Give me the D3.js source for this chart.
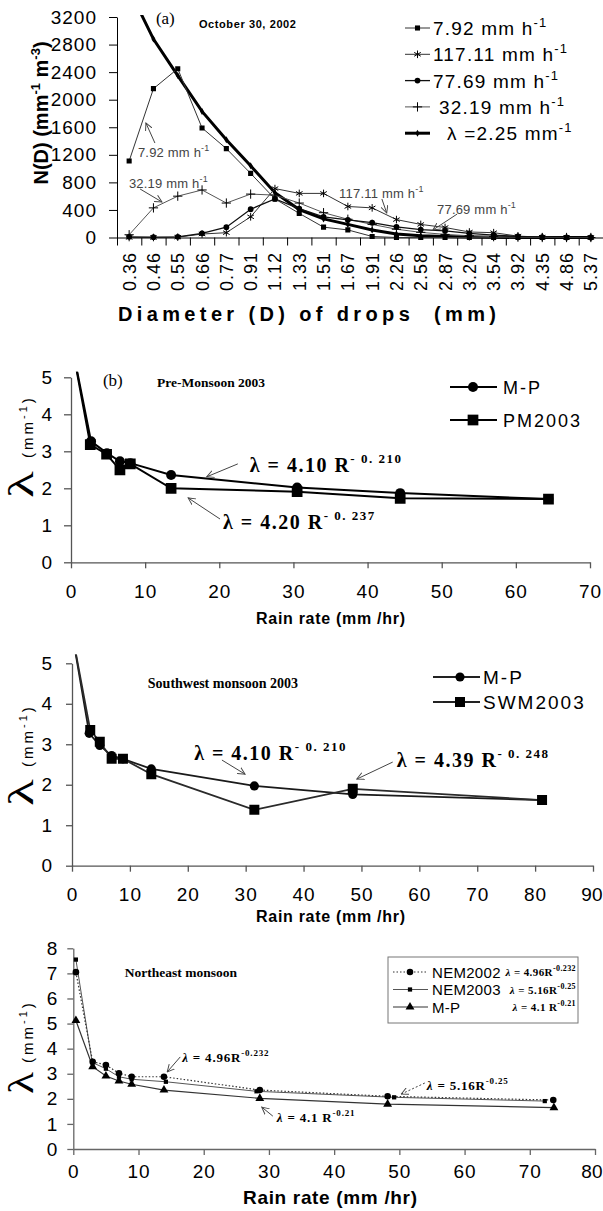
<!DOCTYPE html>
<html>
<head>
<meta charset="utf-8">
<script src="https://cdn.jsdelivr.net/npm/d3@7"></script>
<style>
body { margin: 0; background: #fff; }
svg { display: block; }
</style>
</head>
<body>
<svg id="chart" width="603" height="1211"></svg>
<script>

// ---- panel (a): drop size distribution, October 30, 2002 ----
var diameters = ["0.36", "0.46", "0.55", "0.66", "0.77", "0.91", "1.12", "1.33", "1.51", "1.67",
                 "1.91", "2.26", "2.58", "2.87", "3.20", "3.54", "3.92", "4.35", "4.86", "5.37"];
var nd_792   = [1110, 2160, 2450, 1590, 1290, 930, 560, 350, 150, 110, 15, 0, 0, 0, 0, 0, 0, 0, 0, 0];
var nd_11711 = [0, 0, 5, 50, 70, 300, 710, 640, 640, 450, 430, 260, 190, 145, 80, 70, 20, 5, 0, 0];
var nd_7769  = [10, 5, 10, 60, 150, 410, 560, 420, 300, 255, 215, 155, 115, 95, 60, 35, 15, 5, 0, 0];
var nd_3219  = [40, 430, 600, 690, 500, 630, 615, 500, 360, 265, 190, 120, 75, 45, 25, 12, 5, 0, 0, 0];
var nd_lambda = [3600, 2880, 2350, 1830, 1420, 1040, 650, 405, 270, 190, 110, 50, 25, 13, 6, 3, 1, 0, 0, 0];
var ndTicks = [0, 400, 800, 1200, 1600, 2000, 2400, 2800, 3200];

// ---- panel (b): Pre-Monsoon 2003 ----
var mpRainB   = [0.1, 2.7, 4.85, 6.6, 8.0, 13.5, 30.5, 44.4, 64.4];
var mpLambdaB = [5.9, 3.27, 2.95, 2.73, 2.68, 2.36, 2.02, 1.87, 1.71];
var pmRain    = [0.1, 2.6, 4.8, 6.6, 8.0, 13.5, 30.5, 44.4, 64.4];
var pmLambda  = [5.9, 3.18, 2.92, 2.5, 2.66, 2.0, 1.91, 1.73, 1.71];
var rainTicksB = [0, 10, 20, 30, 40, 50, 60, 70];

// ---- panel (c): Southwest monsoon 2003 ----
var mpRainC    = [0.2, 2.97, 4.8, 6.85, 8.8, 13.7, 31.5, 48.5, 81.2];
var mpLambdaC  = [5.6, 3.27, 2.97, 2.72, 2.64, 2.39, 1.97, 1.76, 1.62];
var swmRain    = [0.2, 3.15, 4.8, 6.85, 8.8, 13.7, 31.5, 48.5, 81.2];
var swmLambda  = [5.6, 3.35, 3.06, 2.64, 2.64, 2.26, 1.38, 1.9, 1.62];
var rainTicksC = [0, 10, 20, 30, 40, 50, 60, 70, 80, 90];

// ---- panel (d): Northeast monsoon ----
var nem02Rain   = [0.4, 2.97, 5.0, 7.0, 8.95, 13.9, 28.6, 48.2, 73.6];
var nem02Lambda = [7.05, 3.48, 3.35, 3.02, 2.88, 2.88, 2.35, 2.1, 1.95];
var nem03Rain   = [0.4, 2.9, 5.0, 7.0, 8.95, 14.2, 28.1, 49.2, 72.3];
var nem03Lambda = [7.55, 3.45, 3.2, 2.88, 2.78, 2.68, 2.3, 2.06, 1.91];
var mpRainD     = [0.4, 2.97, 5.0, 7.0, 8.95, 13.9, 28.6, 48.2, 73.7];
var mpLambdaD   = [5.12, 3.28, 2.91, 2.71, 2.58, 2.35, 2.02, 1.79, 1.65];
var rainTicksD  = [0, 10, 20, 30, 40, 50, 60, 70, 80];

var lambdaTicks5 = [0, 1, 2, 3, 4, 5];
var lambdaTicks8 = [0, 1, 2, 3, 4, 5, 6, 7, 8];

var SANS = "'Liberation Sans', Arial, sans-serif";
var SERIF = "'Liberation Serif', 'Times New Roman', serif";
var plain = d3.format("d");

var svg = d3.select("#chart");
svg.append("rect").attr("width", 603).attr("height", 1211).attr("fill", "#fff");
var defs = svg.append("defs");

defs.append("marker").attr("id", "arrowhead")
    .attr("viewBox", "0 0 10 10").attr("refX", 9).attr("refY", 5)
    .attr("markerWidth", 8).attr("markerHeight", 8)
    .attr("markerUnits", "userSpaceOnUse")
    .attr("orient", "auto")
  .append("path").attr("d", "M0,0.5L9,5L0,9.5")
    .attr("fill", "none").attr("stroke", "#444").attr("stroke-width", 1.2);

//
// segText:
//   text with superscript parts; segs is a list of [string, isSup, style]
//
function segText(g, x, y, segs, o) {
    var t = g.append("text").attr("x", x).attr("y", y)
        .attr("font-family", o.family || SANS)
        .attr("font-size", o.size)
        .attr("font-weight", o.weight || "normal")
        .attr("letter-spacing", o.ls || 0)
        .attr("fill", o.fill || "#000")
        .attr("text-anchor", o.anchor || "start")
        .attr("xml:space", "preserve");
    if (o.transform) t.attr("transform", o.transform);
    var raised = false;
    segs.forEach(function(s) {
        var sp = t.append("tspan").text(s[0]);
        if (s[1]) {
            sp.attr("font-size", o.supSize).attr("dy", raised ? 0 : -o.rise);
            raised = true;
        } else if (raised) {
            sp.attr("dy", o.rise);
            raised = false;
        }
        if (s[2]) sp.attr("font-style", s[2]);
    });
    return t;
}

function arrow(g, x1, y1, x2, y2, dashed) {
    var l = g.append("line").attr("x1", x1).attr("y1", y1).attr("x2", x2).attr("y2", y2)
        .attr("stroke", "#444").attr("stroke-width", 1)
        .attr("marker-end", "url(#arrowhead)");
    if (dashed) l.attr("stroke-dasharray", "2,2");
}

var symbolTypes = {
    square: d3.symbolSquare,
    circle: d3.symbolCircle,
    triangle: d3.symbolTriangle,
    diamond: d3.symbolDiamond,
    asterisk: d3.symbolAsterisk || d3.symbolCross,
    plus: d3.symbolPlus || d3.symbolCross
};

function drawSymbols(g, kind, area, pts, color) {
    var stroked = (kind == "asterisk" || kind == "plus");
    g.selectAll(null).data(pts).join("path")
        .attr("transform", function(p) { return "translate(" + p[0] + "," + p[1] + ")"; })
        .attr("d", d3.symbol(symbolTypes[kind], area))
        .attr("fill", stroked ? "none" : color)
        .attr("stroke", stroked ? color : "none")
        .attr("stroke-width", stroked ? 1 : 0);
}

function styleAxis(ax, color, width, size) {
    ax.selectAll("path, line").attr("stroke", color).attr("stroke-width", width);
    ax.selectAll("text").attr("font-family", SANS).attr("font-size", size)
        .attr("letter-spacing", 1).attr("fill", "#000");
}

// keep the last tick label of an x axis inside the page
function pullInLast(ax, dx) {
    var labs = ax.selectAll(".tick text");
    d3.select(labs.nodes()[labs.size() - 1]).attr("text-anchor", "end").attr("x", dx)
        .attr("letter-spacing", 0);
}

//
// lambdaTitle:
//   rotated "λ (mm-1)" axis title; the λ is drawn wide like the original glyph
//
function lambdaTitle(g, x, yLam, yUnit, widen) {
    g.append("text").attr("transform", "translate(" + x + "," + yLam + ") rotate(-90) scale(" + widen + ",0.92)")
        .attr("font-family", SERIF).attr("font-size", 38).attr("fill", "#000").text("λ");
    var t = g.append("text").attr("transform", "translate(" + x + "," + yUnit + ") rotate(-90)")
        .attr("font-family", SANS).attr("fill", "#000").attr("letter-spacing", 3);
    t.append("tspan").text("(mm").attr("font-size", 15);
    t.append("tspan").text("-1").attr("font-size", 11).attr("dy", -6);
    t.append("tspan").text(")").attr("font-size", 15).attr("dy", 6);
}

// ===================== panel (a) =====================
var ga = svg.append("g");
var xa = d3.scaleBand().domain(diameters).range([117, 603]);
var fa = d3.scaleLinear().domain([0, diameters.length]).range([117, 603]);
var ya = d3.scaleLinear().domain([0, 3200]).range([237.5, 17]);
var cxa = function(i) { return xa(diameters[i]) + xa.bandwidth() / 2; };

var axA = ga.append("g").attr("transform", "translate(117,0)")
    .call(d3.axisLeft(ya).tickValues(ndTicks).tickFormat(plain)
          .tickSize(8).tickPadding(12).tickSizeOuter(0));
styleAxis(axA, "#000", 1, 19);

var axAx = ga.append("g").attr("transform", "translate(0," + ya(0) + ")")
    .call(d3.axisBottom(fa).tickValues(d3.range(0, diameters.length + 1))
          .tickSize(8).tickFormat("").tickSizeOuter(0));
styleAxis(axAx, "#000", 1, 19);

ga.selectAll(".dlab").data(diameters).join("text")
    .attr("transform", function(d) {
        return "translate(" + (xa(d) + xa.bandwidth() / 2 + 6.5) + ",252) rotate(-90)";
    })
    .attr("text-anchor", "end").attr("font-family", SANS).attr("font-size", 18)
    .attr("letter-spacing", 1).text(function(d) { return d; });

segText(ga, 0, 0, [["N(D) (mm"], ["-1", true], [" m"], ["-3", true], [")"]],
    { size: 20, weight: "bold", supSize: 13, rise: 8, anchor: "middle",
      transform: "translate(48,113) rotate(-90)" });

ga.append("text").attr("x", 118).attr("y", 321)
    .attr("font-family", SANS).attr("font-size", 20).attr("font-weight", "bold")
    .attr("textLength", 378).attr("lengthAdjust", "spacing")
    .attr("xml:space", "preserve")
    .text("Diameter (D) of drops  (mm)");

defs.append("clipPath").attr("id", "clipA").append("rect")
    .attr("x", 117).attr("y", ya(3200) - 2).attr("width", 486).attr("height", ya(0) - ya(3200) + 12);

var seriesA = [
    { name: "7.92",   values: nd_792,    sym: "square",   area: 26, stroke: "#333", width: 1,   legX: 433 },
    { name: "117.11", values: nd_11711,  sym: "asterisk", area: 40, stroke: "#333", width: 1,   legX: 433 },
    { name: "77.69",  values: nd_7769,   sym: "circle",   area: 26, stroke: "#111", width: 1.3, legX: 433 },
    { name: "32.19",  values: nd_3219,   sym: "plus",     area: 30, stroke: "#555", width: 1,   legX: 439 },
    { name: "lambda", values: nd_lambda, sym: "diamond",  area: 14, stroke: "#000", width: 3,   legX: 447 }
];

var plotA = ga.append("g").attr("clip-path", "url(#clipA)");
var lineA = d3.line().x(function(d, i) { return cxa(i); }).y(function(d) { return ya(d); });
[4, 3, 1, 2, 0].forEach(function(k) {
    var s = seriesA[k];
    plotA.append("path").attr("d", lineA(s.values))
        .attr("fill", "none").attr("stroke", s.stroke).attr("stroke-width", s.width);
    drawSymbols(plotA, s.sym, s.area, s.values.map(function(v, i) { return [cxa(i), ya(v)]; }), "#000");
});

ga.append("text").attr("x", fa(1.6)).attr("y", ya(3098)).attr("font-family", SERIF)
    .attr("font-size", 17).text("(a)");
ga.append("text").attr("x", fa(3.37)).attr("y", ya(3040)).attr("font-family", SANS)
    .attr("font-size", 11).attr("font-weight", "bold").attr("letter-spacing", 0.6)
    .text("October 30, 2002");

var annA = { size: 13, supSize: 9, rise: 6, fill: "#444", ls: 0.2 };
segText(ga, fa(0.86), ya(1168), [["7.92 mm h"], ["-1", true]], annA);
arrow(ga, fa(1.56), ya(1371), fa(1.19), ya(1662));
segText(ga, fa(0.49), ya(718), [["32.19 mm h"], ["-1", true]], annA);
arrow(ga, fa(0.95), ya(704), fa(1.85), ya(515));
segText(ga, fa(9.14), ya(573), [["117.11 mm h"], ["-1", true]], annA);
arrow(ga, fa(10.9), ya(559), fa(11.1), ya(356));
segText(ga, fa(13.17), ya(341), [["77.69 mm h"], ["-1", true]], annA);
arrow(ga, fa(14.0), ya(341), fa(13.0), ya(109));

// legend (a)
var legA = ga.append("g");
seriesA.forEach(function(s, i) {
    var yy = 28 + i * 26.3;
    legA.append("line").attr("x1", 405).attr("x2", 430).attr("y1", yy).attr("y2", yy)
        .attr("stroke", s.stroke).attr("stroke-width", s.width);
    drawSymbols(legA, s.sym, s.area, [[417.5, yy]], "#000");
    var segs = s.name == "lambda" ? [["λ =2.25 mm"], ["-1", true]] : [[s.name + " mm h"], ["-1", true]];
    segText(legA, s.legX, yy + 7, segs, { size: 19, supSize: 13, rise: 8, ls: 1.2 });
});

// ===================== panel (b) =====================
var gb = svg.append("g");
var xb = d3.scaleLinear().domain([0, 70]).range([71, 590]);
var yb = d3.scaleLinear().domain([0, 5]).range([562.3, 377.3]);

var axB = gb.append("g").attr("transform", "translate(71,0)")
    .call(d3.axisLeft(yb).tickValues(lambdaTicks5).tickFormat(plain)
          .tickSize(7).tickPadding(11).tickSizeOuter(0));
styleAxis(axB, "#555", 1.3, 19);
var axBx = gb.append("g").attr("transform", "translate(0," + yb(0) + ")")
    .call(d3.axisBottom(xb).tickValues(rainTicksB).tickFormat(plain)
          .tickSize(6).tickPadding(16).tickSizeOuter(0));
styleAxis(axBx, "#555", 1.3, 19);

lambdaTitle(gb, 33, 498, 458, 1.45);
gb.append("text").attr("x", 256).attr("y", 624).attr("font-family", SANS)
    .attr("font-size", 16).attr("font-weight", "bold")
    .attr("textLength", 149).attr("lengthAdjust", "spacing")
    .text("Rain rate (mm /hr)");

defs.append("clipPath").attr("id", "clipB").append("rect")
    .attr("x", 60).attr("y", yb(5.15)).attr("width", 543).attr("height", yb(0) - yb(5.15) + 10);

var plotB = gb.append("g").attr("clip-path", "url(#clipB)");
var lineB = d3.line();
function xyPairs(xs, ys, sx, sy) { return xs.map(function(v, i) { return [sx(v), sy(ys[i])]; }); }

var mpB = xyPairs(mpRainB, mpLambdaB, xb, yb);
var pmB = xyPairs(pmRain, pmLambda, xb, yb);
plotB.append("path").attr("d", lineB(mpB)).attr("fill", "none").attr("stroke", "#000").attr("stroke-width", 2);
plotB.append("path").attr("d", lineB(pmB)).attr("fill", "none").attr("stroke", "#000").attr("stroke-width", 2);
drawSymbols(plotB, "circle", 78, mpB, "#000");
drawSymbols(plotB, "square", 115, pmB, "#000");

gb.append("text").attr("x", xb(4.3)).attr("y", yb(4.76)).attr("font-family", SERIF)
    .attr("font-size", 17).text("(b)");
gb.append("text").attr("x", xb(11.6)).attr("y", yb(4.74)).attr("font-family", SERIF)
    .attr("font-size", 13.5).attr("font-weight", "bold").text("Pre-Monsoon 2003");

var annBC = { size: 20, family: SERIF, weight: "bold", supSize: 13, rise: 9, ls: 1.5 };
segText(gb, xb(24.1), yb(2.44), [["λ = 4.10 R"], ["- 0. 210", true]], annBC);
arrow(gb, xb(22.5), yb(2.66), xb(18.3), yb(2.31));
segText(gb, xb(20.5), yb(0.9), [["λ = 4.20 R"], ["- 0. 237", true]], annBC);
arrow(gb, xb(20.1), yb(1.17), xb(15.8), yb(1.74));

var legB = gb.append("g");
[["M-P", "circle", 78], ["PM2003", "square", 115]].forEach(function(e, i) {
    var yy = 387 + i * 33;
    legB.append("line").attr("x1", 450).attr("x2", 497).attr("y1", yy).attr("y2", yy)
        .attr("stroke", "#000").attr("stroke-width", 2);
    drawSymbols(legB, e[1], e[2], [[473, yy]], "#000");
    legB.append("text").attr("x", 503).attr("y", yy + 6.5).attr("font-family", SANS)
        .attr("font-size", 18).attr("letter-spacing", 2).text(e[0]);
});

// ===================== panel (c) =====================
var gc = svg.append("g");
var xc = d3.scaleLinear().domain([0, 90]).range([72, 593]);
var yc = d3.scaleLinear().domain([0, 5]).range([865.7, 663.3]);

var axC = gc.append("g").attr("transform", "translate(72,0)")
    .call(d3.axisLeft(yc).tickValues(lambdaTicks5).tickFormat(plain)
          .tickSize(6).tickPadding(13).tickSizeOuter(0));
styleAxis(axC, "#555", 1.3, 19);
var axCx = gc.append("g").attr("transform", "translate(0," + yc(0) + ")")
    .call(d3.axisBottom(xc).tickValues(rainTicksC).tickFormat(plain)
          .tickSize(6).tickPadding(16).tickSizeOuter(0));
styleAxis(axCx, "#555", 1.3, 19);
pullInLast(axCx, 9);

lambdaTitle(gc, 33, 806, 767, 1.45);
gc.append("text").attr("x", 256).attr("y", 922).attr("font-family", SANS)
    .attr("font-size", 16).attr("font-weight", "bold")
    .attr("textLength", 149).attr("lengthAdjust", "spacing")
    .text("Rain rate (mm /hr)");

defs.append("clipPath").attr("id", "clipC").append("rect")
    .attr("x", 60).attr("y", yc(5.22)).attr("width", 543).attr("height", yc(0) - yc(5.22) + 10);

var plotC = gc.append("g").attr("clip-path", "url(#clipC)");
var mpC = xyPairs(mpRainC, mpLambdaC, xc, yc);
var swC = xyPairs(swmRain, swmLambda, xc, yc);
plotC.append("path").attr("d", lineB(mpC)).attr("fill", "none").attr("stroke", "#1a1a1a").attr("stroke-width", 1.8);
plotC.append("path").attr("d", lineB(swC)).attr("fill", "none").attr("stroke", "#2a2a2a").attr("stroke-width", 1.8);
drawSymbols(plotC, "circle", 66, mpC, "#000");
drawSymbols(plotC, "square", 100, swC, "#000");

gc.append("text").attr("x", xc(13.1)).attr("y", yc(4.39)).attr("font-family", SERIF)
    .attr("font-size", 14).attr("font-weight", "bold").text("Southwest monsoon 2003");

segText(gc, xc(21.1), yc(2.61), [["λ = 4.10 R"], ["- 0. 210", true]], annBC);
arrow(gc, xc(25.9), yc(2.61), xc(29.9), yc(2.26));
segText(gc, xc(56.1), yc(2.44), [["λ = 4.39 R"], ["- 0. 248", true]], annBC);
arrow(gc, xc(55.4), yc(2.56), xc(49.2), yc(2.14));

var legC = gc.append("g");
[["M-P", "circle", 66], ["SWM2003", "square", 100]].forEach(function(e, i) {
    var yy = 677 + i * 25;
    legC.append("line").attr("x1", 433).attr("x2", 480).attr("y1", yy).attr("y2", yy)
        .attr("stroke", "#222").attr("stroke-width", 1.8);
    drawSymbols(legC, e[1], e[2], [[460, yy]], "#000");
    legC.append("text").attr("x", 483).attr("y", yy + 7).attr("font-family", SANS)
        .attr("font-size", 19).attr("letter-spacing", 2).text(e[0]);
});

// ===================== panel (d) =====================
var gd = svg.append("g");
var xd = d3.scaleLinear().domain([0, 80]).range([73.3, 595]);
var yd = d3.scaleLinear().domain([0, 8]).range([1149, 948.3]);

var axD = gd.append("g").attr("transform", "translate(73.3,0)")
    .call(d3.axisLeft(yd).tickValues(lambdaTicks8).tickFormat(plain)
          .tickSize(6).tickPadding(9).tickSizeOuter(0));
styleAxis(axD, "#666", 1.3, 19);
var axDx = gd.append("g").attr("transform", "translate(0," + yd(0) + ")")
    .call(d3.axisBottom(xd).tickValues(rainTicksD).tickFormat(plain)
          .tickSize(6).tickPadding(10).tickSizeOuter(0));
styleAxis(axDx, "#666", 1.3, 19);
pullInLast(axDx, 7);

lambdaTitle(gd, 33, 1094, 1063, 1.2);
gd.append("text").attr("x", 243).attr("y", 1204).attr("font-family", SANS)
    .attr("font-size", 19).attr("font-weight", "bold")
    .attr("textLength", 174).attr("lengthAdjust", "spacing")
    .text("Rain rate (mm /hr)");

var n02 = xyPairs(nem02Rain, nem02Lambda, xd, yd);
var n03 = xyPairs(nem03Rain, nem03Lambda, xd, yd);
var mpD = xyPairs(mpRainD, mpLambdaD, xd, yd);
gd.append("path").attr("d", lineB(mpD)).attr("fill", "none").attr("stroke", "#333").attr("stroke-width", 1.2);
gd.append("path").attr("d", lineB(n03)).attr("fill", "none").attr("stroke", "#555").attr("stroke-width", 1);
gd.append("path").attr("d", lineB(n02)).attr("fill", "none").attr("stroke", "#333").attr("stroke-width", 1.2)
    .attr("stroke-dasharray", "1.5,2");
drawSymbols(gd, "triangle", 34, mpD, "#000");
drawSymbols(gd, "square", 18, n03, "#000");
drawSymbols(gd, "circle", 34, n02, "#000");

gd.append("text").attr("x", xd(7.9)).attr("y", yd(6.85)).attr("font-family", SERIF)
    .attr("font-size", 13.5).attr("font-weight", "bold").text("Northeast monsoon");

var annD = { size: 13, family: SERIF, weight: "bold", supSize: 9, rise: 6, ls: 0.8 };
segText(gd, xd(16.7), yd(3.47), [["λ", false, "italic"], [" = 4.96R"], ["-0.232", true]], annD);
arrow(gd, xd(16.4), yd(3.67), xd(14.4), yd(3.07));
segText(gd, xd(31.2), yd(1.08), [["λ", false, "italic"], [" = 4.1 R"], ["-0.21", true]], annD);
arrow(gd, xd(30.6), yd(1.31), xd(28.9), yd(1.67));
segText(gd, xd(54.2), yd(2.35), [["λ", false, "italic"], [" = 5.16R"], ["-0.25", true]], annD);
arrow(gd, xd(53.9), yd(2.63), xd(50.3), yd(2.19), true);

var legD = gd.append("g");
legD.append("rect").attr("x", 388).attr("y", 957).attr("width", 190).attr("height", 66)
    .attr("fill", "#fff").attr("stroke", "#777").attr("stroke-width", 1);
var legDItems = [
    { name: "NEM2002", sym: "circle", area: 34, dash: "1.5,2", color: "#333", eq: [["λ", false, "italic"], [" = 4.96R"], ["-0.232", true]] },
    { name: "NEM2003", sym: "square", area: 18, dash: null, color: "#555", eq: [["λ", false, "italic"], [" = 5.16R"], ["-0.25", true]] },
    { name: "M-P", sym: "triangle", area: 34, dash: null, color: "#333", eq: [["λ", false, "italic"], [" = 4.1 R"], ["-0.21", true]] }
];
legDItems.forEach(function(e, i) {
    var yy = 972 + i * 17.5;
    var l = legD.append("line").attr("x1", 393).attr("x2", 428).attr("y1", yy).attr("y2", yy)
        .attr("stroke", e.color).attr("stroke-width", 1.2);
    if (e.dash) l.attr("stroke-dasharray", e.dash);
    drawSymbols(legD, e.sym, e.area, [[410, yy]], "#000");
    legD.append("text").attr("x", 432).attr("y", yy + 5.5).attr("font-family", SANS)
        .attr("font-size", 15).attr("letter-spacing", 0.3).text(e.name);
    segText(legD, 576, yy + 4, e.eq, { size: 11, family: SERIF, weight: "bold", supSize: 8, rise: 5,
                                       ls: 0.4, anchor: "end" });
});

</script>
</body>
</html>
